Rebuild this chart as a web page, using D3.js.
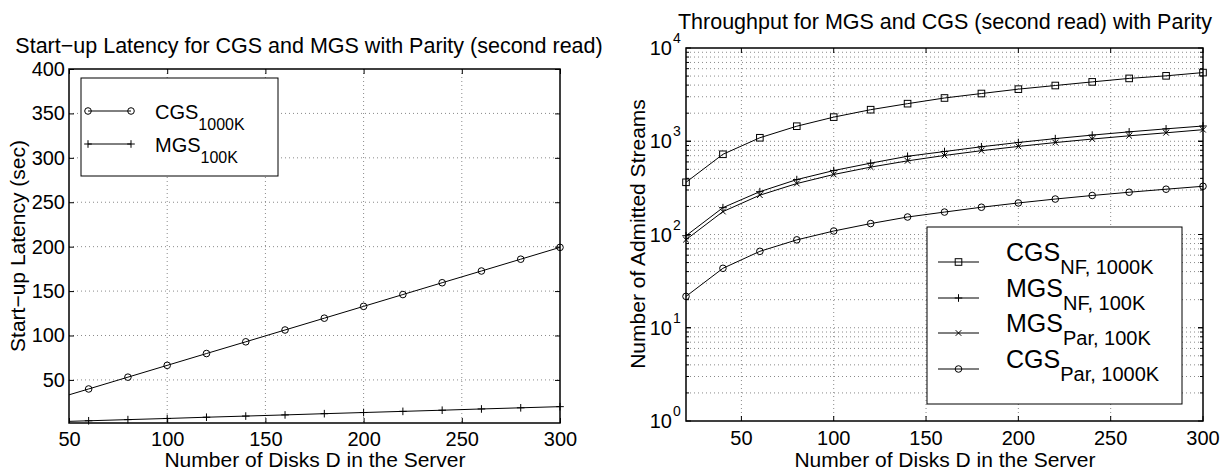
<!DOCTYPE html>
<html><head><meta charset="utf-8">
<script src="https://cdn.jsdelivr.net/npm/d3@7"></script>
<style>
body{margin:0;background:#fff;}
text{font-family:"Liberation Sans",Arial,Helvetica,sans-serif;fill:#000;}
</style></head>
<body><svg id="c" width="1227" height="471"></svg>
<script>
// ---- data ----
const disks = [20,40,60,80,100,120,140,160,180,200,220,240,260,280,300];
// left chart: start-up latency (sec)
const latCGS1000K = [13.3,26.6,39.8,53.1,66.4,79.7,92.9,106.2,119.5,132.8,146.1,159.4,172.6,185.9,199.2];
const latMGS100K  = [1.3,2.7,4.0,5.3,6.6,8.0,9.3,10.6,12.0,13.3,14.6,15.9,17.3,18.6,19.9];
const leftXTicks = [50,100,150,200,250,300];
const leftYTicks = [50,100,150,200,250,300,350,400];
// right chart: number of admitted streams
const thrCGSNF1000K = [363,725,1090,1450,1815,2180,2530,2910,3250,3620,3960,4330,4720,5030,5450];
const thrMGSNF100K  = [97,194,288,388,485,582,690,776,873,970,1067,1164,1261,1358,1457];
const thrMGSPar100K = [88,176,264,352,440,528,616,704,792,880,968,1056,1144,1232,1330];
const thrCGSPar1000K = [21.7,43.4,66,87.6,109,131,154,174,196,218,240,262,284,306,329];
const rightXTicks = [50,100,150,200,250,300];
const rightYTicks = [1,10,100,1000,10000];

const svg = d3.select("#c");
const GRID = "#8a8a8a";
const TICKFS = 20, LABFS = 21, TITFS = 21.5;

function markerPath(g, type, x, y){
  const s = 3.3;
  if(type==="circle") g.append("circle").attr("cx",x).attr("cy",y).attr("r",s).attr("fill","none").attr("stroke","#000");
  else if(type==="square") g.append("rect").attr("x",x-s).attr("y",y-s).attr("width",2*s).attr("height",2*s).attr("fill","none").attr("stroke","#000");
  else if(type==="plus") g.append("path").attr("d",`M${x-s-0.5},${y}H${x+s+0.5}M${x},${y-s-0.5}V${y+s+0.5}`).attr("stroke","#000");
  else if(type==="x") g.append("path").attr("d",`M${x-s+0.5},${y-s+0.5}L${x+s-0.5},${y+s-0.5}M${x-s+0.5},${y+s-0.5}L${x+s-0.5},${y-s+0.5}`).attr("stroke","#000");
}

// ================= LEFT CHART =================
{
  const L=69,R=560,T=69,B=423;
  const x = d3.scaleLinear().domain([50,300]).range([L,R]);
  const y = d3.scaleLinear().domain([1.5,400]).range([B,T]);
  const g = svg.append("g");
  g.append("clipPath").attr("id","clipL").append("rect").attr("x",L).attr("y",T).attr("width",R-L).attr("height",B-T);
  leftXTicks.forEach(t=>{ if(t>50 && t<300) g.append("line").attr("x1",x(t)).attr("x2",x(t)).attr("y1",T).attr("y2",B).attr("stroke",GRID).attr("stroke-dasharray","1,3"); });
  leftYTicks.forEach(t=>{ if(t<400) g.append("line").attr("x1",L).attr("x2",R).attr("y1",y(t)).attr("y2",y(t)).attr("stroke",GRID).attr("stroke-dasharray","1,3"); });
  const ax = g.append("g").attr("transform",`translate(0,${B})`).call(d3.axisBottom(x).tickValues(leftXTicks).tickSizeInner(-5).tickSizeOuter(0).tickPadding(10));
  const axT = g.append("g").attr("transform",`translate(0,${T})`).call(d3.axisTop(x).tickValues(leftXTicks).tickSizeInner(-5).tickSizeOuter(0).tickFormat(""));
  const ay = g.append("g").attr("transform",`translate(${L},0)`).call(d3.axisLeft(y).tickValues(leftYTicks).tickSizeInner(-5).tickSizeOuter(0).tickPadding(4));
  const ayR = g.append("g").attr("transform",`translate(${R},0)`).call(d3.axisRight(y).tickValues(leftYTicks).tickSizeInner(-5).tickSizeOuter(0).tickFormat(""));
  [ax,axT,ay,ayR].forEach(a=>{a.select(".domain").remove(); a.selectAll("line").attr("stroke","#000"); a.selectAll("text").attr("font-size",TICKFS).attr("font-family","Liberation Sans, Arial, sans-serif").attr("fill","#000");});
  ax.selectAll("text").attr("dy",null).attr("y",23);
  g.append("rect").attr("x",L).attr("y",T).attr("width",R-L).attr("height",B-T).attr("fill","none").attr("stroke","#000").attr("stroke-width",1.5);
  const line = d3.line().x((d,i)=>x(disks[i])).y(d=>y(d));
  const pg = g.append("g").attr("clip-path","url(#clipL)");
  pg.append("path").attr("d",line(latCGS1000K)).attr("fill","none").attr("stroke","#000");
  pg.append("path").attr("d",line(latMGS100K)).attr("fill","none").attr("stroke","#000");
  const mg = g.append("g");
  disks.forEach((d,i)=>{ if(d>=50){ markerPath(mg,"circle",x(d),y(latCGS1000K[i])); markerPath(mg,"plus",x(d),y(latMGS100K[i])); } });
  g.append("text").attr("x",309).attr("y",53).attr("text-anchor","middle").attr("font-size",TITFS).text("Start\u2212up Latency for CGS and MGS with Parity (second read)");
  g.append("text").attr("x",315).attr("y",467).attr("text-anchor","middle").attr("font-size",LABFS).text("Number of Disks D in the Server");
  g.append("text").attr("transform",`translate(25,246) rotate(-90)`).attr("text-anchor","middle").attr("font-size",LABFS).text("Start\u2212up Latency (sec)");
  const lg = g.append("g");
  lg.append("rect").attr("x",81).attr("y",78).attr("width",197).attr("height",98).attr("fill","#fff").attr("stroke","#000").attr("stroke-width",1);
  const lent = [{n:"CGS",s:"1000K",m:"circle",y:111},{n:"MGS",s:"100K",m:"plus",y:144}];
  lent.forEach(e=>{
    lg.append("line").attr("x1",88).attr("x2",131).attr("y1",e.y).attr("y2",e.y).attr("stroke","#000");
    markerPath(lg,e.m,88,e.y); markerPath(lg,e.m,131,e.y);
    const t = lg.append("text").attr("x",155).attr("y",e.y+8).attr("font-size",20);
    t.append("tspan").text(e.n);
    t.append("tspan").attr("dy",11).attr("font-size",16).text(e.s);
  });
}

// ================= RIGHT CHART =================
{
  const L=686,R=1203,T=48,B=421;
  const x = d3.scaleLinear().domain([20,300]).range([L,R]);
  const y = d3.scaleLog().domain([1,10000]).range([B,T]);
  const g = svg.append("g");
  rightXTicks.forEach(t=>{ if(t<300) g.append("line").attr("x1",x(t)).attr("x2",x(t)).attr("y1",T).attr("y2",B).attr("stroke",GRID).attr("stroke-dasharray","1,3"); });
  const minors=[];
  for(let e=0;e<4;e++) for(let k=1;k<=9;k++){ const v=k*Math.pow(10,e); if(v>1) minors.push(v); }
  minors.forEach(v=>{ g.append("line").attr("x1",L).attr("x2",R).attr("y1",y(v)).attr("y2",y(v)).attr("stroke",GRID).attr("stroke-dasharray","1,3"); });
  const tk = g.append("g").attr("stroke","#000");
  rightXTicks.forEach(t=>{ tk.append("line").attr("x1",x(t)).attr("x2",x(t)).attr("y1",B).attr("y2",B-5); tk.append("line").attr("x1",x(t)).attr("x2",x(t)).attr("y1",T).attr("y2",T+5); });
  minors.concat(rightYTicks).forEach(v=>{ const len = rightYTicks.includes(v)?5:3; tk.append("line").attr("x1",L).attr("x2",L+len).attr("y1",y(v)).attr("y2",y(v)); tk.append("line").attr("x1",R).attr("x2",R-len).attr("y1",y(v)).attr("y2",y(v)); });
  rightXTicks.forEach(t=>{ g.append("text").attr("x",x(t)).attr("y",445).attr("text-anchor","middle").attr("font-size",TICKFS).text(t); });
  rightYTicks.forEach(v=>{
    const ex = Math.round(Math.log10(v));
    g.append("text").attr("x",672).attr("y",y(v)+7).attr("text-anchor","end").attr("font-size",TICKFS).text("10");
    g.append("text").attr("x",673).attr("y",y(v)-5).attr("font-size",14).text(ex);
  });
  g.append("rect").attr("x",L).attr("y",T).attr("width",R-L).attr("height",B-T).attr("fill","none").attr("stroke","#000").attr("stroke-width",1.5);
  const line = d3.line().x((d,i)=>x(disks[i])).y(d=>y(d));
  const series = [
    {d:thrCGSNF1000K,m:"square"},
    {d:thrMGSNF100K,m:"plus"},
    {d:thrMGSPar100K,m:"x"},
    {d:thrCGSPar1000K,m:"circle"}
  ];
  series.forEach(s=>{
    g.append("path").attr("d",line(s.d)).attr("fill","none").attr("stroke","#000");
    s.d.forEach((v,i)=>markerPath(g,s.m,x(disks[i]),y(v)));
  });
  g.append("text").attr("x",945).attr("y",29).attr("text-anchor","middle").attr("font-size",TITFS).text("Throughput for MGS and CGS (second read) with Parity");
  g.append("text").attr("x",945).attr("y",467).attr("text-anchor","middle").attr("font-size",LABFS).text("Number of Disks D in the Server");
  g.append("text").attr("transform",`translate(645,234) rotate(-90)`).attr("text-anchor","middle").attr("font-size",LABFS).text("Number of Admitted Streams");
  const lg = g.append("g");
  lg.append("rect").attr("x",927).attr("y",227).attr("width",255).attr("height",177).attr("fill","#fff").attr("stroke","#000").attr("stroke-width",1);
  const ent = [
    {n:"CGS",s:"NF, 1000K",m:"square",y:262},
    {n:"MGS",s:"NF, 100K",m:"plus",y:298},
    {n:"MGS",s:"Par, 100K",m:"x",y:333},
    {n:"CGS",s:"Par, 1000K",m:"circle",y:369}
  ];
  ent.forEach(e=>{
    lg.append("line").attr("x1",938).attr("x2",979).attr("y1",e.y).attr("y2",e.y).attr("stroke","#000");
    markerPath(lg,e.m,958.5,e.y);
    const t = lg.append("text").attr("x",1006).attr("y",e.y-1).attr("font-size",25);
    t.append("tspan").text(e.n);
    t.append("tspan").attr("dy",13).attr("font-size",20).text(e.s);
  });
}
</script></body></html>
